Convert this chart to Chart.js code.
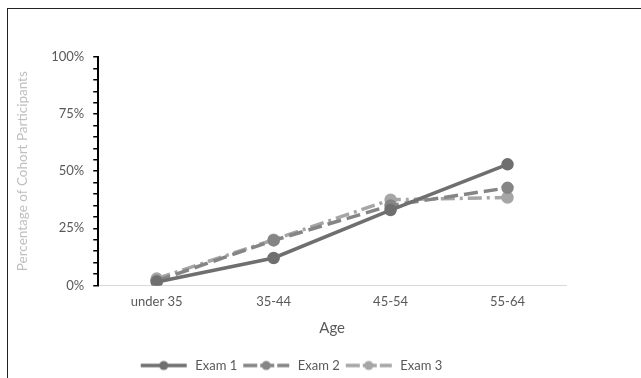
<!DOCTYPE html>
<html><head><meta charset="utf-8">
<script src="https://cdn.jsdelivr.net/npm/chart.js@4/dist/chart.umd.min.js"></script>
<style>
html,body{margin:0;padding:0;background:#fff;width:641px;height:378px;overflow:hidden}
#frame{position:absolute;left:7px;top:8px;width:700px;height:400px;border:1px solid #222;box-sizing:border-box}
#wrap{position:absolute;left:0;top:0;width:641px;height:378px}
</style></head><body>
<div id="frame"></div>
<div id="wrap"><canvas id="c" width="641" height="378"></canvas></div>
<script>
const categories = ["under 35", "35-44", "45-54", "55-64"];
const exam1 = [1.5, 12, 33, 53];
const exam2 = [2, 19.7, 35, 42.7];
const exam3 = [3, 20, 37.5, 38.5];
const seriesNames = ["Exam 1", "Exam 2", "Exam 3"];
const yTickLabels = [0, 25, 50, 75, 100];

const colors = ["#6f6f6f", "#858585", "#a6a6a6"];
const dashes = [[], [14, 6], [14, 5, 3, 5]];

function legendIcon(color, dash) {
  const cv = document.createElement('canvas');
  cv.width = 50; cv.height = 12;
  const g = cv.getContext('2d');
  g.strokeStyle = color; g.lineWidth = 3.5; g.lineCap = 'butt';
  g.setLineDash(dash.length ? [14, 3] : []);
  g.beginPath(); g.moveTo(2, 6); g.lineTo(48, 6); g.stroke();
  g.fillStyle = color; g.beginPath(); g.arc(25, 6, 4.5, 0, Math.PI * 2); g.fill();
  return cv;
}

const data = [exam1, exam2, exam3];
const datasets = data.map((d, i) => ({
  label: seriesNames[i],
  data: d,
  borderColor: colors[i],
  backgroundColor: colors[i],
  borderWidth: 3.5,
  borderDash: dashes[i],
  pointRadius: 4.5,
  pointHoverRadius: 4.5,
  pointBackgroundColor: colors[i],
  pointBorderColor: colors[i],
  pointStyle: 'circle',
  tension: 0
}));

new Chart(document.getElementById('c'), {
  type: 'line',
  data: { labels: categories, datasets },
  options: {
    responsive: false,
    animation: false,
    layout: { padding: { left: 15, right: 75, top: 57, bottom: -4 } },
    plugins: {
      tooltip: { enabled: false },
      legend: {
        position: 'bottom',
        labels: {
          usePointStyle: true,
          pointStyleWidth: 50,
          font: { family: 'Lato', size: 13 },
          color: '#595959',
          padding: 4,
          generateLabels: (chart) => chart.data.datasets.map((ds, i) => ({
            text: ds.label,
            pointStyle: legendIcon(colors[i], dashes[i]),
            fillStyle: colors[i],
            strokeStyle: colors[i],
            lineWidth: 0,
            hidden: false,
            datasetIndex: i,
            fontColor: '#595959'
          }))
        }
      }
    },
    scales: {
      x: {
        offset: true,
        grid: { display: false, drawTicks: false },
        border: { color: '#d9d9d9', width: 1 },
        ticks: { color: '#595959', font: { family: 'Lato', size: 13 }, padding: 9 },
        title: { display: true, text: 'Age', color: '#595959', font: { family: 'Lato', size: 15 }, padding: { top: 0, bottom: 18 } }
      },
      y: {
        min: 0, max: 100,
        grid: { drawOnChartArea: false, drawTicks: true, tickLength: 5, color: '#000', lineWidth: 1.5 },
        border: { color: '#000', width: 2 },
        ticks: {
          stepSize: 5, autoSkip: false, padding: 9,
          color: '#595959', font: { family: 'Lato', size: 13 },
          callback: (v) => yTickLabels.includes(v) ? v + '%' : ''
        },
        title: { display: true, text: 'Percentage of Cohort Participants', color: '#bfbfbf', font: { family: 'Lato', size: 13.5 }, padding: { top: 0, bottom: 11 } }
      }
    }
  }
});
</script>
</body></html>
